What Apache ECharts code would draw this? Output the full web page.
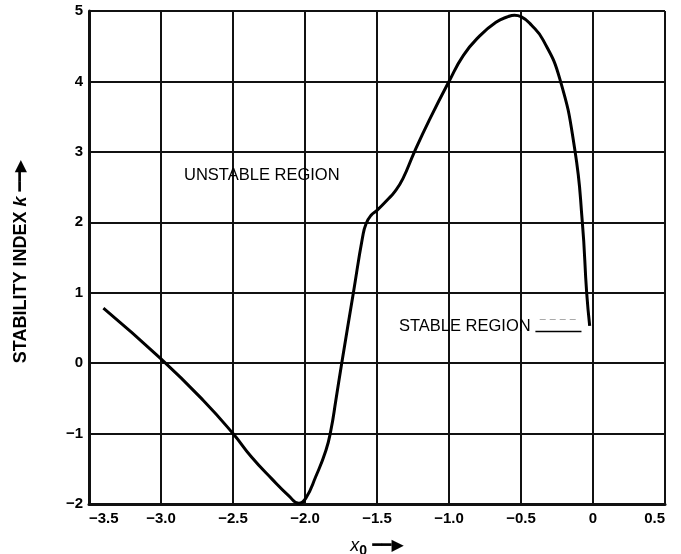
<!DOCTYPE html>
<html>
<head>
<meta charset="utf-8">
<script src="https://cdn.jsdelivr.net/npm/echarts@6/dist/echarts.min.js"></script>
<style>
html,body{margin:0;padding:0;background:#fff;}
#chart{width:681px;height:554px;}
</style>
</head>
<body>
<div id="chart"></div>
<script>
// ---- data ----
const curveX = [-3.40, -3.00, -2.706, -2.50, -2.373, -2.232, -2.114, -2.043,
  -1.995, -1.925, -1.855, -1.82, -1.786, -1.745, -1.664, -1.60, -1.576, -1.541, -1.50, -1.432, -1.375,
  -1.32, -1.24, -1.137, -1.00, -0.90, -0.79, -0.674, -0.590, -0.545, -0.500, -0.428, -0.347, -0.231, -0.127,
  -0.074, -0.044, -0.023];
const curveY = [0.78, 0.06, -0.53, -1.00, -1.33, -1.64, -1.88, -1.99,
  -1.92, -1.61, -1.24, -0.95, -0.53, 0.00, 1.00, 1.79, 1.98, 2.10, 2.17, 2.31, 2.44,
  2.62, 3.00, 3.45, 4.00, 4.37, 4.64, 4.84, 4.92, 4.94, 4.92, 4.80, 4.59, 4.04, 3.04,
  2.00, 1.00, 0.53];

const xMin = -3.5, xMax = 0.5, xStep = 0.5;
const yMin = -2, yMax = 5, yStep = 1;
const xTickLabels = ['\u22123.5', '\u22123.0', '\u22122.5', '\u22122.0', '\u22121.5', '\u22121.0', '\u22120.5', '0', '0.5'];
const yTickLabels = ['\u22122', '\u22121', '0', '1', '2', '3', '4', '5'];

const regionLabels = ['UNSTABLE REGION', 'STABLE REGION'];
const regionX = [-2.30, -0.89];
const regionY = [2.66, 0.52];

const leaderX = [-0.40, -0.08];
const leaderY = [0.45, 0.45];
const faintX = [-0.37, -0.11];
const faintY = [0.63, 0.63];

// ---- chart ----
const FONT = '"Liberation Sans", Arial, sans-serif';
const INK = '#000';
const GRID = '#111';
const chart = echarts.init(document.getElementById('chart'), null, {renderer: 'canvas'});

const curveData = curveX.map((x, i) => [x, curveY[i]]);
const regionData = regionLabels.map((t, i) => ({value: [regionX[i], regionY[i]], name: t}));

chart.setOption({
  animation: false,
  backgroundColor: '#fff',
  grid: {left: 89, right: 16, top: 11, bottom: 50, containLabel: false, outerBoundsMode: 'none'},
  xAxis: {
    type: 'value', min: xMin, max: xMax, interval: xStep,
    axisLine: {show: true, onZero: false, lineStyle: {color: GRID, width: 3}},
    axisTick: {show: false},
    splitLine: {show: true, lineStyle: {color: GRID, width: 2}},
    axisLabel: {
      color: INK, fontFamily: FONT, fontWeight: 'bold', fontSize: 15, margin: 7,
      alignMinLabel: 'left', alignMaxLabel: 'right',
      formatter: v => xTickLabels[Math.round((v - xMin) / xStep)]
    },
    name: '{i|x}{s|0}{a| \u2501\u2501\u25B6}',
    nameLocation: 'middle', nameGap: 30,
    nameTextStyle: {
      rich: {
        i: {fontFamily: FONT, fontStyle: 'italic', fontSize: 18, color: INK, lineHeight: 24, verticalAlign: 'middle'},
        s: {fontFamily: FONT, fontSize: 14, fontWeight: 'bold', color: INK, lineHeight: 24, verticalAlign: 'bottom', padding: [8, 0, 0, 0]},
        a: {fontFamily: '"DejaVu Sans"', fontSize: 16, color: INK, lineHeight: 24, verticalAlign: 'middle'}
      }
    }
  },
  yAxis: {
    type: 'value', min: yMin, max: yMax, interval: yStep,
    axisLine: {show: true, onZero: false, lineStyle: {color: GRID, width: 3}},
    axisTick: {show: false},
    splitLine: {show: true, lineStyle: {color: GRID, width: 2}},
    axisLabel: {
      color: INK, fontFamily: FONT, fontWeight: 'bold', fontSize: 15, margin: 6,
      formatter: v => yTickLabels[Math.round((v - yMin) / yStep)]
    },
    name: '{t|STABILITY INDEX }{k|k}{a| \u2501\u2501\u25B6}',
    nameLocation: 'middle', nameRotate: 90, nameGap: 57,
    nameTextStyle: {
      rich: {
        t: {fontFamily: FONT, fontWeight: 'bold', fontSize: 18, color: INK, lineHeight: 22},
        k: {fontFamily: FONT, fontWeight: 'bold', fontStyle: 'italic', fontSize: 18, color: INK, lineHeight: 22},
        a: {fontFamily: '"DejaVu Sans"', fontSize: 16, color: INK, lineHeight: 22, padding: [0, 8, 0, 0]}
      }
    }
  },
  series: [
    {
      type: 'line', data: curveData, smooth: 0.5, showSymbol: false, symbol: 'none',
      lineStyle: {color: '#000', width: 3}, z: 5
    },
    {
      type: 'scatter', data: regionData, symbolSize: 0, silent: true,
      itemStyle: {opacity: 1},
      label: {
        show: true, position: 'inside', formatter: p => p.name,
        fontFamily: FONT, fontSize: 16.5, color: '#000', opacity: 1
      },
      markLine: {
        silent: true, symbol: 'none', label: {show: false},
        data: [
          [{coord: [leaderX[0], leaderY[0]], lineStyle: {color: INK, width: 1.3, type: 'solid', opacity: 1}},
           {coord: [leaderX[1], leaderY[1]]}],
          [{coord: [faintX[0], faintY[0]], lineStyle: {color: '#aaa', width: 1, type: [6, 4], opacity: 1}},
           {coord: [faintX[1], faintY[1]]}]
        ]
      }
    }
  ]
});
</script>
</body>
</html>
